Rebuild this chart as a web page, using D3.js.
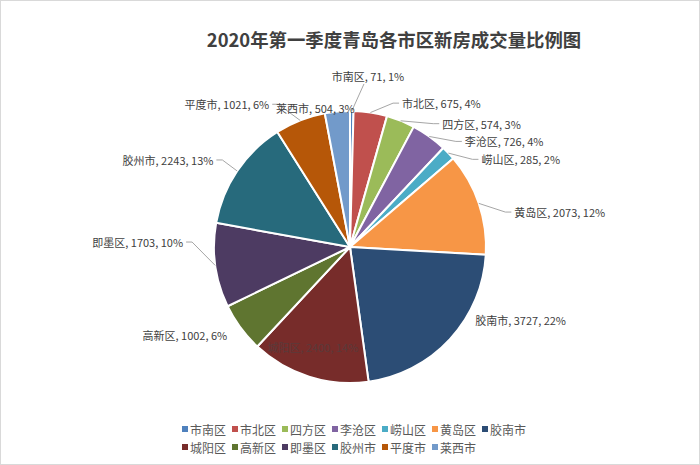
<!DOCTYPE html>
<html><head><meta charset="utf-8">
<script src="https://cdn.jsdelivr.net/npm/d3@7"></script>
<style>
html,body{margin:0;padding:0;background:#fff;}
svg{display:block;font-family:"Microsoft YaHei","Noto Sans CJK SC","Noto Sans",sans-serif;}
</style></head>
<body><svg id="c" width="700" height="465"></svg>
<script>
const categories = ["市南区","市北区","四方区","李沧区","崂山区","黄岛区","胶南市","城阳区","高新区","即墨区","胶州市","平度市","莱西市"];
const values = [71,675,574,726,285,2073,3727,2400,1002,1703,2243,1021,504];
const percentLabels = ["1%","4%","3%","4%","2%","12%","22%","14%","6%","10%","13%","6%","3%"];
const colors = ["#4F81BD","#C0504D","#9BBB59","#8064A2","#4BACC6","#F79646","#2C4D75","#772C2A","#5F7530","#4D3B62","#276A7C","#B65708","#729ACA"];
const title = "2020年第一季度青岛各市区新房成交量比例图";

// label layout: polar angle (deg, clockwise from top), radius, anchor, leader
const labelLayout = [
  [6.0,172,"middle",true],[19.9,153,"start",true],[36.8,154,"start",true],[47.4,156,"start",true],
  [56.3,158,"start",true],[78.0,168,"start",true],[120.3,145,"start",false],[200.3,107,"middle",false],
  [234.4,151,"end",false],[271.7,167,"end",true],[302.5,162,"end",true],[330.5,164,"end",true],[346.0,143,"middle",false]
];

const svg = d3.select("#c");
const W = 700, H = 465;
svg.append("rect").attr("x",0.5).attr("y",0.5).attr("width",W-1).attr("height",H-1)
  .attr("fill","#fff").attr("stroke","#d9d9d9");

svg.append("text").attr("x",394).attr("y",39).attr("text-anchor","middle")
  .attr("dominant-baseline","central").attr("font-size",18.4).attr("font-weight","bold")
  .attr("fill","#404040").text(title);

const cx = 350, cy = 247, R = 136;
const data = categories.map((c,i)=>({name:c,value:values[i],pct:percentLabels[i],color:colors[i],lay:labelLayout[i]}));
const pie = d3.pie().value(d=>d.value).sort(null);
const arcs = pie(data);
const arc = d3.arc().innerRadius(0).outerRadius(R);
const g = svg.append("g").attr("transform",`translate(${cx},${cy})`);
g.selectAll("path.slice").data(arcs).join("path").attr("class","slice")
  .attr("d",arc).attr("fill",d=>d.data.color).attr("stroke","#fff").attr("stroke-width",2)
  .attr("stroke-linejoin","round");

const polar = (deg,r)=>{const a=deg*Math.PI/180;return [r*Math.sin(a), -r*Math.cos(a)];};
arcs.forEach(a=>{
  const [ang,r,anchor,leader] = a.data.lay;
  const [tx,ty] = polar(ang,r);
  const mid = (a.startAngle+a.endAngle)/2*180/Math.PI;
  const [ax,ay] = polar(mid,R);
  if(leader){
    let pts;
    if(anchor==="start") pts=[[ax,ay],[tx-9,ty],[tx-3,ty]];
    else if(anchor==="end") pts=[[ax,ay],[tx+9,ty],[tx+3,ty]];
    else pts=[[ax,ay],[tx-4,ty+8]];
    g.append("polyline").attr("points",pts.map(p=>p.join(",")).join(" "))
      .attr("fill","none").attr("stroke","#a6a6a6").attr("stroke-width",1);
  }
  g.append("text").attr("x",tx).attr("y",ty).attr("text-anchor",anchor)
    .attr("dominant-baseline","central").attr("font-size",11)
    .attr("fill", a.data.name==="城阳区" ? "#5a3a3a" : "#404040")
    .text(`${a.data.name}, ${a.data.value}, ${a.data.pct}`);
});

// legend
const perRow = 7, lx0 = 182, step = 50, rowY = [429,447];
const lg = svg.append("g");
data.forEach((d,i)=>{
  const row = Math.floor(i/perRow), col = i%perRow;
  const x = lx0 + col*step, y = rowY[row];
  lg.append("rect").attr("x",x).attr("y",y-3).attr("width",6).attr("height",6).attr("fill",d.color);
  lg.append("text").attr("x",x+8).attr("y",y).attr("dominant-baseline","central")
    .attr("font-size",12).attr("fill","#595959").text(d.name);
});
</script></body></html>
